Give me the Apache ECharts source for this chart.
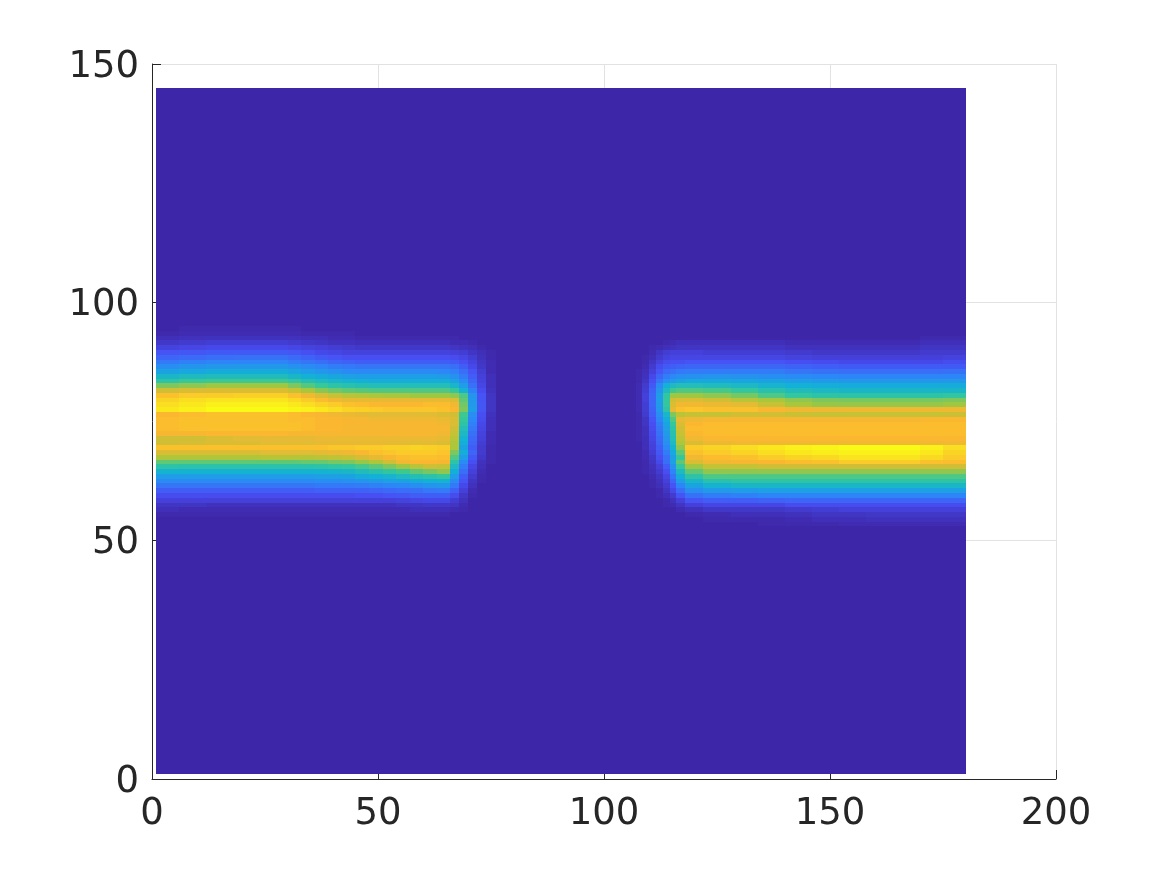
<!DOCTYPE html>
<html><head><meta charset="utf-8">
<style>html,body{margin:0;padding:0;background:#fff}#c{width:1167px;height:875px}</style>
<script src="https://cdn.jsdelivr.net/npm/echarts@6/dist/echarts.min.js"></script>
</head><body><div id="c"></div>
<script>
const xTicks = [0, 50, 100, 150, 200];
const yTicks = [0, 50, 100, 150];
const imageExtentX = [0.9, 180];
const imageExtentY = [1, 145];
const backgroundLevel = 0;
const paletteStops = ['#3E26A8','#4750F5','#2D87F7','#12B1D6','#37C897','#ABC739','#FBB631','#F9FB15'];
const leftColumnEdges = [0.9,6,12,18,24,30,33,36,39,42,45,48,51,54,57,60,63,66,68,70,72,74,76,78];
const rightColumnEdges = [105.5,107,108.5,110,111.5,113,114.5,116,118,122,128,134,140,146,152,158,164,170,175,180];
const firstRowFloor = 94;
const leftBand = [
[0,1,1,1,1, 1,0,0,0,0,0,0,0,0,0,0,0, 0,0,0,0,0,0],
[1,2,2,2,2, 2,1,1,1,1,0,0,0,0,0,0,0, 0,0,0,0,0,0],
[3,4,4,4,4, 4,3,3,2,2,1,1,1,1,1,1,1, 1,0,0,0,0,0],
[6,7,8,8,8, 7,6,5,4,4,3,3,3,3,3,3,3, 2,2,1,0,0,0],
[10,11,12,12,12, 11,10,9,8,7,6,6,6,6,6,6,6, 5,4,3,1,0,0],
[15,16,17,17,17, 16,14,12,11,10,10,10,10,10,10,10,10, 9,8,5,3,1,0],
[20,21,22,23,23, 21,19,17,15,14,14,14,14,14,14,14,14, 13,11,8,4,1,0],
[25,27,28,28,28, 26,24,22,20,19,18,18,18,18,18,18,18, 17,14,10,5,2,0],
[31,33,34,34,34, 32,30,28,26,25,24,24,24,24,24,24,24, 22,18,12,6,2,0],
[38,40,41,41,41, 39,36,34,32,30,30,30,30,30,30,30,29, 27,22,15,8,2,0],
[46,48,49,49,49, 46,43,41,39,37,36,36,36,36,36,36,35, 32,26,18,9,3,0],
[54,57,58,58,58, 55,51,48,46,44,43,42,42,42,42,42,42, 38,30,20,10,3,0],
[66,68,70,70,70, 66,61,57,54,52,51,50,50,50,50,50,50, 46,36,23,11,3,0],
[78,80,80,80,80, 76,71,67,64,62,61,60,60,60,60,60,60, 56,44,27,13,4,0],
[88,90,90,91,91, 88,84,80,77,74,73,72,71,71,70,70,70, 68,60,33,15,5,0],
[92,94,95,95,95, 93,90,87,84,82,82,82,82,82,82,82,82, 80,62,34,15,5,0],
[94,96,98,98,98, 96,94,92,90,88,87,86,86,86,86,87,87, 84,64,35,16,5,0],
[96,98,100,100,100, 99,98,96,94,92,91,90,89,89,89,89,88, 86,66,36,16,5,0],
[86,87,88,88,88, 87,86,85,84,83,82,81,81,81,81,81,80, 78,58,31,14,4,0],
[87,88,88,88,88, 87,87,86,86,85,85,84,84,84,84,84,83, 80,56,29,13,3,0],
[87,88,88,88,88, 88,87,86,86,85,85,85,85,85,85,85,84, 80,54,27,12,3,0],
[87,88,88,88,88, 88,87,86,86,85,85,85,85,85,85,85,85, 78,50,25,11,3,0],
[85,85,86,86,86, 85,85,85,85,85,85,85,85,85,85,85,84, 76,47,23,10,2,0],
[78,78,80,81,82, 82,82,83,83,83,83,83,83,83,83,83,82, 74,44,21,9,2,0],
[78,79,80,80,81, 81,81,82,82,82,82,82,82,81,81,81,80, 72,42,20,8,2,0],
[88,88,88,88,88, 88,88,88,89,89,90,90,91,91,92,91,90, 72,38,18,7,1,0],
[80,80,80,80,81, 81,81,82,83,84,86,88,89,90,90,90,89, 66,42,20,7,1,0],
[72,72,72,72,73, 73,73,74,75,76,79,82,85,87,88,88,87, 60,36,17,6,1,0],
[62,62,62,62,62, 62,63,63,65,66,69,72,78,84,86,86,85, 54,30,14,4,1,0],
[54,53,53,53,53, 53,53,54,55,56,59,62,66,70,74,78,76, 48,26,11,3,0,0],
[44,44,44,44,44, 44,44,44,45,46,49,52,55,58,62,65,68, 42,22,9,2,0,0],
[36,36,36,36,36, 36,36,37,37,38,41,43,45,48,51,53,55, 36,18,7,1,0,0],
[30,30,30,30,30, 30,30,31,31,32,33,35,37,38,41,43,44, 30,15,5,1,0,0],
[24,24,24,24,24, 24,24,25,25,25,26,27,28,29,31,33,34, 25,12,4,0,0,0],
[18,18,18,18,18, 18,18,19,19,19,19,20,21,22,23,25,26, 19,9,2,0,0,0],
[13,13,13,13,13, 13,13,13,13,13,14,14,15,16,18,18,18, 13,6,1,0,0,0],
[9,9,9,9,9, 9,9,9,9,9,9,9,9,10,11,12,12, 8,4,0,0,0,0],
[5,5,4,4,4, 4,4,4,4,4,4,4,4,5,5,6,6, 5,2,0,0,0,0],
[3,2,2,2,2, 2,2,2,2,2,2,2,2,2,3,3,3, 2,1,0,0,0,0],
[1,1,1,1,1, 1,1,1,1,1,1,1,1,1,1,1,1, 0,0,0,0,0,0]
];
const rightBand = [
[0,0,0,0,0,0,0,0,0,0,0,0,0,0,0,0,0,0,0],
[0,0,0,0,0,0,0,0,0,0,0,0,0,0,0,0,0,0,0],
[0,0,0,0,0,0,0,0,0,0,0,0,0,0,0,0,0,1,1],
[0,0,0,0,0,1,2,3,3,3,3,3,2,2,2,2,2,3,3],
[0,0,0,1,2,3,4,5,5,5,5,5,4,4,4,4,4,5,5],
[0,0,0,2,5,8,9,9,9,8,8,8,7,6,6,6,6,7,7],
[0,0,1,3,7,10,11,11,11,11,11,11,10,9,9,9,9,9,10],
[0,0,1,5,10,13,14,14,15,15,15,15,14,13,12,12,12,12,13],
[0,0,2,7,13,17,18,19,20,20,20,20,19,18,17,17,17,17,17],
[0,1,3,9,16,21,23,25,26,26,26,26,24,23,22,22,22,22,23],
[0,1,4,12,20,26,29,31,32,33,32,31,30,29,28,28,28,28,28],
[0,1,5,14,24,31,35,38,40,40,39,38,36,35,34,34,34,34,34],
[0,2,7,17,30,43,48,50,50,49,47,45,43,42,41,41,41,41,41],
[0,2,8,19,33,48,58,60,60,59,56,52,49,47,46,46,46,46,46],
[0,2,9,20,36,55,70,70,70,68,65,60,56,54,54,54,54,54,55],
[0,2,9,20,36,56,78,80,80,78,74,71,68,66,65,65,65,65,66],
[0,2,8,20,35,56,80,84,84,83,81,76,71,69,69,69,69,69,70],
[0,2,8,19,34,54,82,88,89,88,88,86,84,84,84,84,84,84,84],
[0,1,7,18,31,46,66,74,76,76,78,78,77,76,76,76,76,76,77],
[0,1,5,15,28,42,60,82,84,85,85,85,85,85,85,85,85,86,86],
[0,1,5,14,26,39,56,80,86,87,87,87,87,87,87,87,87,87,87],
[0,1,4,13,24,37,54,78,87,87,87,87,87,87,87,87,87,87,87],
[0,1,4,12,23,35,52,76,86,87,87,87,87,87,87,87,87,87,87],
[0,1,3,11,21,33,50,74,84,86,86,86,86,86,86,86,86,86,86],
[0,0,3,10,20,32,48,72,80,83,84,84,84,84,84,84,84,84,84],
[0,0,3,9,18,29,44,68,90,92,94,96,98,99,100,100,100,98,94],
[0,0,2,8,16,26,40,62,88,90,92,94,96,97,98,98,98,96,92],
[0,0,2,6,14,23,36,56,84,87,88,90,92,93,95,95,95,93,90],
[0,0,1,5,12,22,38,62,80,84,85,86,87,88,90,90,90,88,87],
[0,0,1,4,9,18,32,56,70,76,76,78,78,78,78,78,78,78,78],
[0,0,1,3,7,14,28,48,62,68,68,68,68,68,68,68,68,68,68],
[0,0,0,2,5,11,24,42,54,60,60,60,60,60,60,60,60,60,60],
[0,0,0,1,4,9,20,36,46,52,54,54,54,54,54,54,54,54,54],
[0,0,0,1,3,7,15,28,38,44,46,46,46,46,46,46,46,46,46],
[0,0,0,0,1,5,12,22,31,35,36,37,37,37,37,37,37,37,37],
[0,0,0,0,1,3,7,15,23,26,27,28,28,28,28,28,28,28,28],
[0,0,0,0,0,1,4,9,15,18,18,19,20,20,20,20,20,20,20],
[0,0,0,0,0,1,2,5,9,11,11,11,13,13,13,13,13,13,13],
[0,0,0,0,0,0,0,2,4,6,6,6,7,8,9,9,9,9,9],
[0,0,0,0,0,0,0,0,1,2,3,3,4,5,5,6,6,6,6],
[0,0,0,0,0,0,0,0,0,1,1,1,2,3,3,4,4,4,4],
[0,0,0,0,0,0,0,0,0,0,0,1,1,1,2,2,2,2,2]
];

const cells = [[imageExtentX[0], imageExtentX[1], imageExtentY[0], imageExtentY[1], backgroundLevel]];
function addBand(edges, table) {
  table.forEach((row, i) => {
    const floor = firstRowFloor - i;
    row.forEach((v, j) => {
      if (v > 0) cells.push([edges[j], edges[j + 1], floor, floor + 1, v]);
    });
  });
}
addBand(leftColumnEdges, leftBand);
addBand(rightColumnEdges, rightBand);

const chart = echarts.init(document.getElementById('c'), null, {renderer: 'canvas'});
const axisFont = {color: '#262626', fontSize: 37, fontFamily: '"DejaVu Sans"'};
chart.setOption({
  animation: false,
  backgroundColor: '#fff',
  grid: {left: 152, top: 64, right: 111, bottom: 96, containLabel: false},
  visualMap: {show: false, type: 'continuous', min: 0, max: 100, dimension: 4, seriesIndex: 0, inRange: {color: paletteStops}},
  xAxis: {
    type: 'value', min: xTicks[0], max: xTicks[xTicks.length - 1], interval: 50,
    axisLine: {show: true, onZero: false, lineStyle: {color: '#262626', width: 1}},
    axisTick: {show: true, inside: true, length: 9, lineStyle: {color: '#262626'}},
    axisLabel: Object.assign({margin: 17, showMinLabel: true, showMaxLabel: true}, axisFont),
    splitLine: {show: true, lineStyle: {color: '#e2e2e2', width: 1}}
  },
  yAxis: {
    type: 'value', min: yTicks[0], max: yTicks[yTicks.length - 1], interval: 50,
    axisLine: {show: true, onZero: false, lineStyle: {color: '#262626', width: 1}},
    axisTick: {show: true, inside: true, length: 9, lineStyle: {color: '#262626'}},
    axisLabel: Object.assign({margin: 13, verticalAlign: 'top', lineHeight: 6, showMinLabel: true, showMaxLabel: true}, axisFont),
    splitLine: {show: true, lineStyle: {color: '#e2e2e2', width: 1}}
  },
  series: [{
    type: 'custom',
    coordinateSystem: 'cartesian2d',
    clip: true,
    silent: true,
    encode: {x: [0, 1], y: [2, 3]},
    data: cells,
    renderItem: function (params, api) {
      const a = api.coord([api.value(0), api.value(3)]);
      const b = api.coord([api.value(1), api.value(2)]);
      const x = Math.round(a[0]), y = Math.round(a[1]);
      return {
        type: 'rect',
        shape: {x: x, y: y, width: Math.round(b[0]) - x, height: Math.round(b[1]) - y},
        style: {fill: api.visual('color')}
      };
    }
  }]
});
</script></body></html>
